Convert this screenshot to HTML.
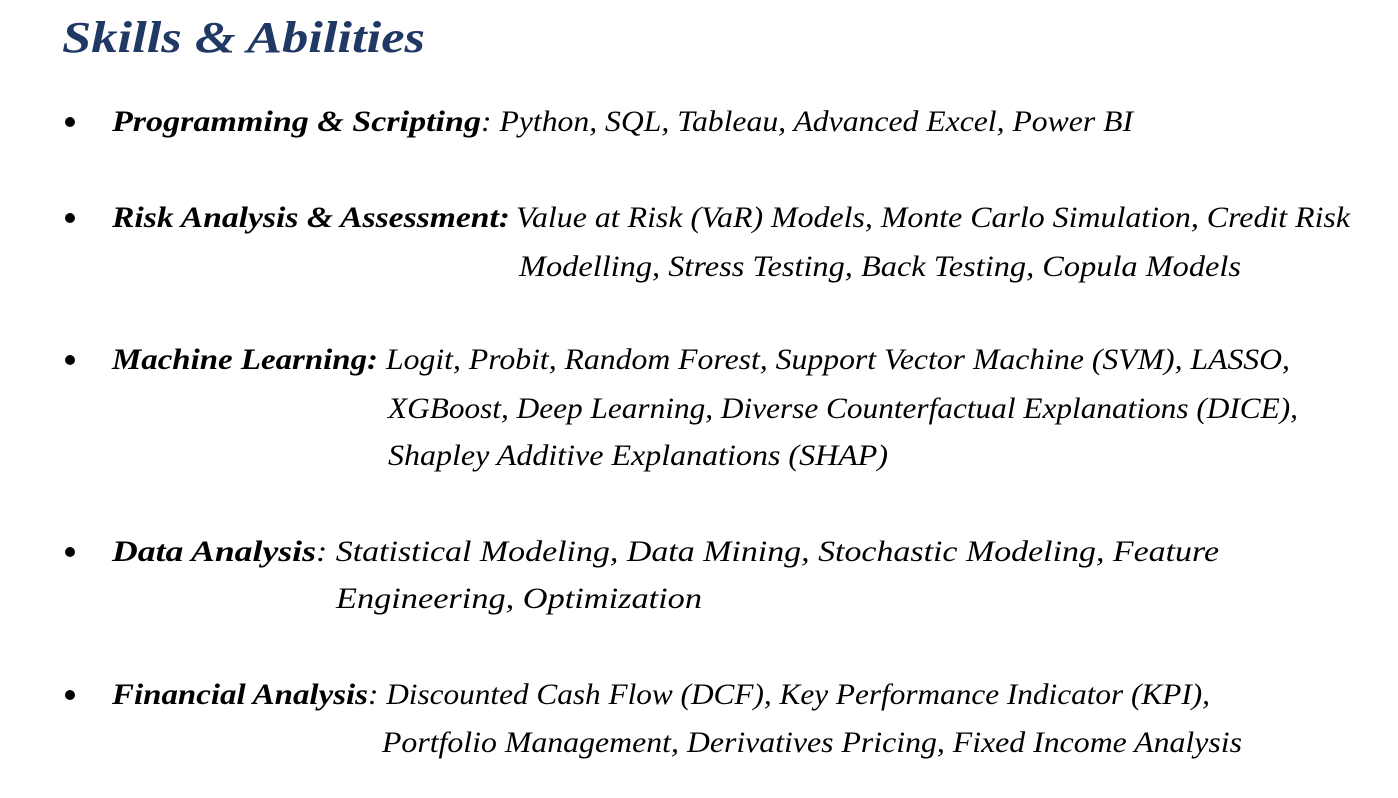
<!DOCTYPE html>
<html><head><meta charset="utf-8"><style>
html,body{margin:0;padding:0;background:#fff;}
svg{display:block;}
text{font-family:"Liberation Serif",serif;font-style:italic;fill:#000;}
.b{font-weight:bold;}
.r{font-weight:normal;}
</style></head><body>
<svg width="1398" height="798" viewBox="0 0 1398 798">
<text x="62" y="52" font-size="44" font-weight="bold" style="fill:#1F3864" textLength="363" lengthAdjust="spacingAndGlyphs">Skills &amp; Abilities</text>

<circle cx="70" cy="122" r="5" fill="#000"/>
<text class="b" x="112" y="131" font-size="30" textLength="369" lengthAdjust="spacingAndGlyphs">Programming &amp; Scripting</text>
<text class="r" x="481" y="131" font-size="30" textLength="652" lengthAdjust="spacingAndGlyphs">:  Python, SQL, Tableau, Advanced Excel, Power BI</text>

<circle cx="70" cy="218" r="5" fill="#000"/>
<text class="b" x="112" y="227" font-size="30" textLength="398" lengthAdjust="spacingAndGlyphs">Risk Analysis &amp; Assessment:</text>
<text class="r" x="516" y="227" font-size="30" textLength="834" lengthAdjust="spacingAndGlyphs">Value at Risk (VaR) Models, Monte Carlo Simulation, Credit Risk</text>
<text class="r" x="519" y="276" font-size="30" textLength="722" lengthAdjust="spacingAndGlyphs">Modelling, Stress Testing, Back Testing, Copula Models</text>

<circle cx="70" cy="360" r="5" fill="#000"/>
<text class="b" x="112" y="369" font-size="30" textLength="266" lengthAdjust="spacingAndGlyphs">Machine Learning:</text>
<text class="r" x="386" y="369" font-size="30" textLength="904" lengthAdjust="spacingAndGlyphs">Logit, Probit, Random Forest, Support Vector Machine (SVM), LASSO,</text>
<text class="r" x="388" y="418" font-size="30" textLength="910" lengthAdjust="spacingAndGlyphs">XGBoost, Deep Learning, Diverse Counterfactual Explanations (DICE),</text>
<text class="r" x="388" y="465" font-size="30" textLength="500" lengthAdjust="spacingAndGlyphs">Shapley Additive Explanations (SHAP)</text>

<circle cx="70" cy="552" r="5" fill="#000"/>
<text class="b" x="112" y="561" font-size="30" textLength="204" lengthAdjust="spacingAndGlyphs">Data Analysis</text>
<text class="r" x="316" y="561" font-size="30" textLength="903" lengthAdjust="spacingAndGlyphs">: Statistical Modeling, Data Mining, Stochastic Modeling, Feature</text>
<text class="r" x="336" y="608" font-size="30" textLength="366" lengthAdjust="spacingAndGlyphs">Engineering, Optimization</text>

<circle cx="70" cy="695" r="5" fill="#000"/>
<text class="b" x="112" y="704" font-size="30" textLength="256" lengthAdjust="spacingAndGlyphs">Financial Analysis</text>
<text class="r" x="368" y="704" font-size="30" textLength="842" lengthAdjust="spacingAndGlyphs">: Discounted Cash Flow (DCF), Key Performance Indicator (KPI),</text>
<text class="r" x="382" y="752" font-size="30" textLength="860" lengthAdjust="spacingAndGlyphs">Portfolio Management, Derivatives Pricing, Fixed Income Analysis</text>
</svg>
</body></html>
